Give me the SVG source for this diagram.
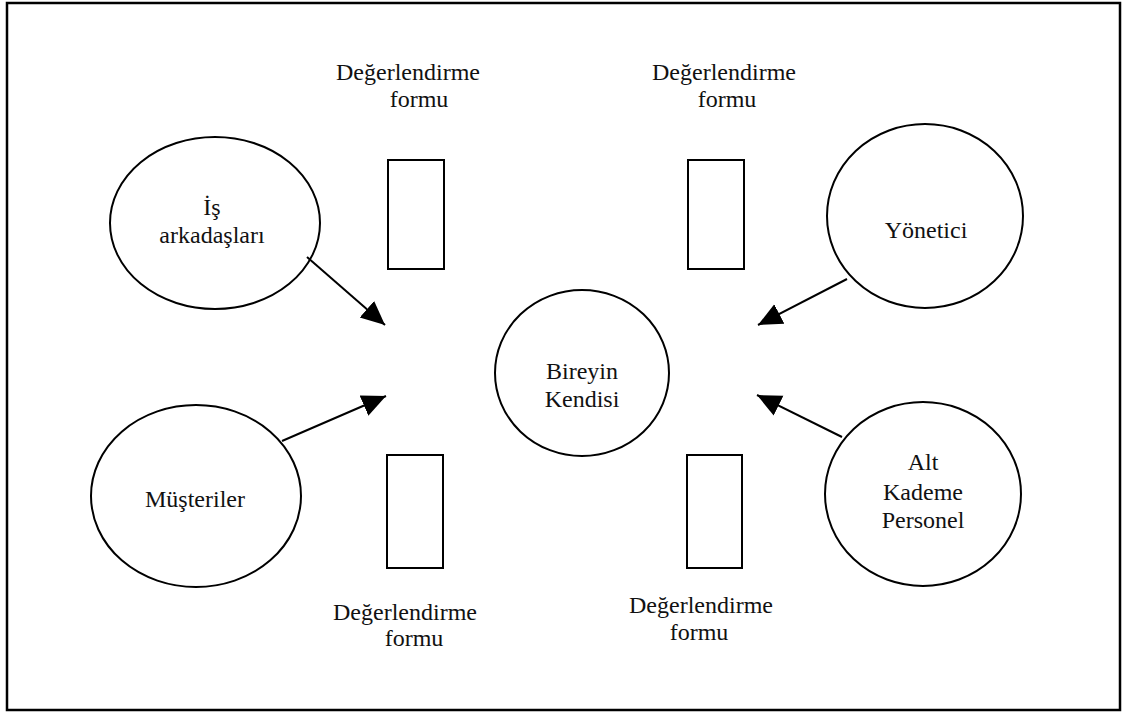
<svg xmlns="http://www.w3.org/2000/svg" width="1129" height="722" viewBox="0 0 1129 722">
<style>
.s{fill:none;stroke:#000;stroke-width:2}
.t{font-family:"Liberation Serif","Times New Roman",serif;font-size:24px;fill:#111;text-anchor:middle}
.c{stroke:#000;stroke-width:2;fill:none}
</style>
<defs>
<marker id="ah" markerUnits="userSpaceOnUse" markerWidth="26" markerHeight="24" refX="24" refY="11" orient="auto" viewBox="0 0 26 22">
<path d="M0,0 L24,11 L0,22 Z" fill="#000"/>
</marker>
</defs>
<rect x="7" y="3" width="1113" height="707" fill="#fff" stroke="#000" stroke-width="2.5"/>
<g id="is-arkadaslari">
<ellipse class="s" cx="215" cy="223" rx="105" ry="86"/>
<text class="t" x="212" y="215">İş</text>
<text class="t" x="212" y="243">arkadaşları</text>
</g>
<g id="yonetici">
<ellipse class="s" cx="925" cy="216" rx="98" ry="92"/>
<text class="t" x="926" y="238">Yönetici</text>
</g>
<g id="musteriler">
<ellipse class="s" cx="196" cy="496" rx="105" ry="91"/>
<text class="t" x="195" y="507">Müşteriler</text>
</g>
<g id="alt-kademe">
<ellipse class="s" cx="923" cy="494" rx="98" ry="92"/>
<text class="t" x="923" y="470">Alt</text>
<text class="t" x="923" y="500">Kademe</text>
<text class="t" x="923" y="528">Personel</text>
</g>
<g id="bireyin-kendisi">
<ellipse class="s" cx="582" cy="373" rx="87" ry="83"/>
<text class="t" x="582" y="379">Bireyin</text>
<text class="t" x="582" y="407">Kendisi</text>
</g>
<g id="form-top-left">
<rect class="s" x="388" y="160" width="56" height="109"/>
<text class="t" x="408" y="80">Değerlendirme</text>
<text class="t" x="419" y="107">formu</text>
</g>
<g id="form-top-right">
<rect class="s" x="688" y="160" width="56" height="109"/>
<text class="t" x="724" y="80">Değerlendirme</text>
<text class="t" x="727" y="107">formu</text>
</g>
<g id="form-bottom-left">
<rect class="s" x="387" y="455" width="56" height="113"/>
<text class="t" x="405" y="620">Değerlendirme</text>
<text class="t" x="414" y="646">formu</text>
</g>
<g id="form-bottom-right">
<rect class="s" x="687" y="455" width="55" height="113"/>
<text class="t" x="701" y="613">Değerlendirme</text>
<text class="t" x="699" y="640">formu</text>
</g>
<g id="connectors">
<line class="c" x1="307" y1="257" x2="385" y2="325" marker-end="url(#ah)"/>
<line class="c" x1="282" y1="441" x2="386" y2="396" marker-end="url(#ah)"/>
<line class="c" x1="847" y1="279" x2="758" y2="325" marker-end="url(#ah)"/>
<line class="c" x1="842" y1="437" x2="757" y2="395" marker-end="url(#ah)"/>
</g>
</svg>
